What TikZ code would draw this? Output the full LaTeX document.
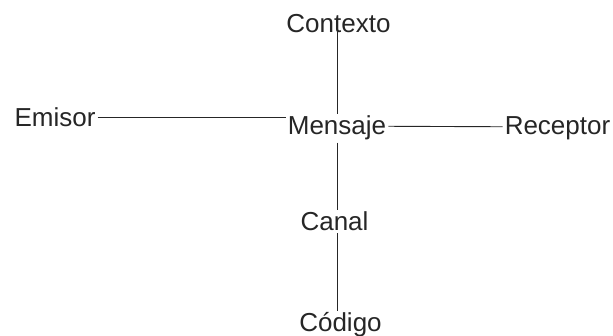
\documentclass[tikz,border=0pt]{standalone}
\usepackage{fontspec}
\setmainfont{Liberation Sans}

\begin{document}
\begin{tikzpicture}[x=1pt, y=-1pt,
    etiqueta/.style={font=\fontsize{26}{30}\selectfont, text=black!85, inner sep=2pt, anchor=base},
    linea/.style={line width=0.9pt, black!85}]

    \useasboundingbox (0,0) rectangle (613,336);

    % Labels
    \node[etiqueta] (contexto) at (338.5,33) {Contexto};
    \node[etiqueta] (emisor) at (55,127) {Emisor};
    \node[etiqueta] (mensaje) at (337,135) {Mensaje};
    \node[etiqueta] (receptor) at (557.5,135) {Receptor};
    \node[etiqueta] (canal) at (334.5,231) {Canal};
    \node[etiqueta] (codigo) at (340.5,332) {Código};

    % Lines
    \draw[linea] ([yshift=5pt]contexto.base -| mensaje.north) -- (mensaje.north);
    \draw[linea] (emisor.east) -- (emisor.east -| mensaje.west);
    \draw[linea] ([yshift=2pt]mensaje.east) -- ([yshift=2pt]receptor.west);
    \draw[linea] (mensaje.south) -- (mensaje.south |- canal.north);
    \draw[linea] (canal.south -| mensaje.south) -- (codigo.north -| mensaje.south);

\end{tikzpicture}
\end{document}
